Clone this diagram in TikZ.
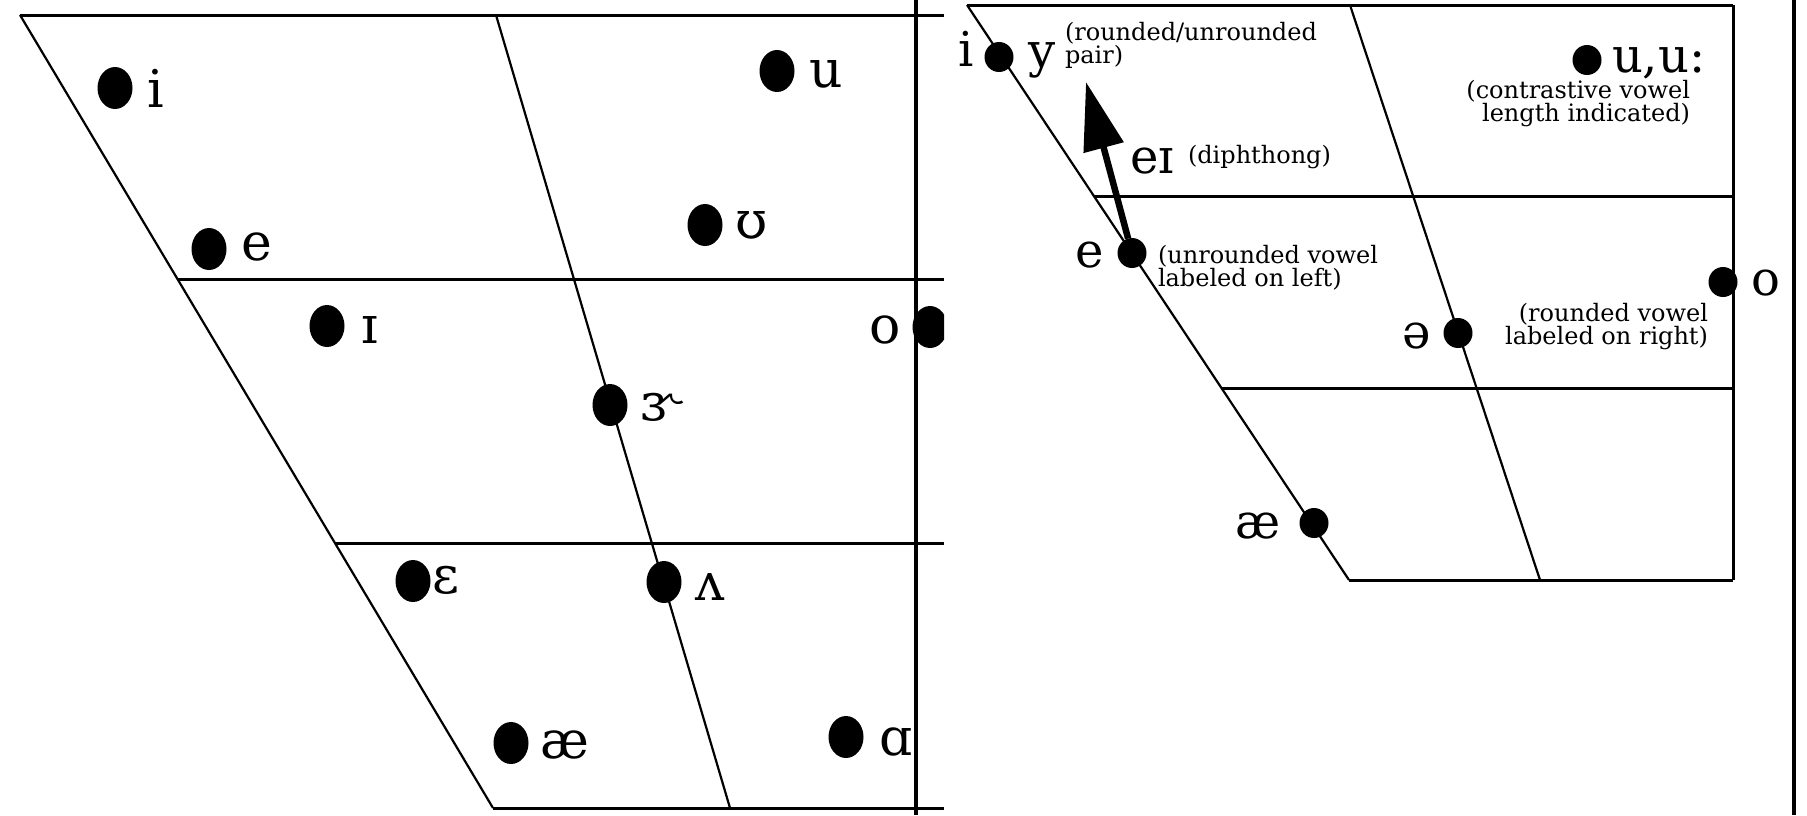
\documentclass[tikz,border=0pt]{standalone}
\usepackage{fontspec}
\setmainfont{DejaVu Serif}
\usetikzlibrary{shapes.geometric,arrows.meta}
\newcommand\fntLeft{\fontsize{52}{60}\selectfont}
\newcommand\fntRight{\fontsize{48}{56}\selectfont}
\tikzset{
  bigdot/.style={ellipse, fill=black, inner sep=0pt, outer sep=0pt, minimum width=35pt, minimum height=42pt},
  smalldot/.style={ellipse, fill=black, inner sep=0pt, outer sep=0pt, minimum width=29pt, minimum height=30pt},
  leftlab/.style={anchor=base west, inner sep=0pt, outer sep=0pt, font=\fntLeft},
  rightlab/.style={anchor=base west, inner sep=0pt, outer sep=0pt, font=\fntRight},
  note/.style={inner sep=0pt, outer sep=0pt},
  slantline/.style={line width=2.2pt},
  gridline/.style={line width=3pt},
  divider/.style={line width=4pt},
  diph/.style={line width=6.5pt, -{Triangle[length=68pt,width=40pt]}}
}
\begin{document}
\begin{tikzpicture}[x=1pt,y=-1pt]
\useasboundingbox (0,0) rectangle (1807,815);
\fill[white] (0,0) rectangle (1807,815);

% ---------- left chart ----------
\begin{scope}
\clip (0,0) rectangle (944,815);
\draw[gridline] (20,15) -- (944,15);
\draw[gridline] (177,279) -- (944,279);
\draw[gridline] (335,543) -- (944,543);
\draw[gridline] (493,808) -- (944,808);
\draw[slantline] (20,15) -- (493,808);
\draw[slantline] (496,15) -- (730,808);

\node[bigdot] (Li) at (115,88) {};
\node[leftlab] (Lil) at (147,107) {i};
\node[bigdot] (Lu) at (777,71) {};
\node[leftlab] (Lul) at (809,87) {u};
\node[bigdot] (Le) at (209,249) {};
\node[leftlab] (Lel) at (241,260) {e};
\node[bigdot] (Lhu) at (705,225) {};
\node[leftlab] (Lhul) at (735,238) {ʊ};
\node[bigdot] (Lsi) at (327,326) {};
\node[leftlab] (Lsil) at (361,343) {ɪ};
\node[bigdot] (Lo) at (930,327) {};
\node[leftlab] (Lol) at (869,343) {o};
\node[bigdot] (Ler) at (610,405) {};
\node[leftlab] (Lerl) at (640,420) {ɝ};
\node[bigdot] (Leps) at (413,581) {};
\node[leftlab] (Lepsl) at (432,593) {ɛ};
\node[bigdot] (Lv) at (664,582) {};
\node[leftlab] (Lvl) at (695,600) {ʌ};
\node[bigdot] (Lae) at (511,743) {};
\node[leftlab] (Lael) at (540,758) {æ};
\node[bigdot] (La) at (846,737) {};
\node[leftlab] (Lal) at (879,755) {ɑ};
\end{scope}

% ---------- dividers ----------
\draw[divider] (916,0) -- (916,815);
\draw[divider] (1794,0) -- (1794,815);

% ---------- right chart ----------
\draw[gridline] (967,5) -- (1733,5);
\draw[gridline] (1094,196) -- (1733,196);
\draw[gridline] (1221,388) -- (1733,388);
\draw[gridline] (1349,580) -- (1733,580);
\draw[gridline] (1733,5) -- (1733,580);
\draw[slantline] (967,5) -- (1349,580);
\draw[slantline] (1350,5) -- (1540,580);

\node[smalldot] (Ri) at (999,57) {};
\node[rightlab] (Ril) at (958,66) {i};
\node[rightlab] (Ryl) at (1028,67) {y};
\node[note, anchor=north west, align=left, font={\fontsize{24}{23}\selectfont}] (Rn1) at (1065,22) {(rounded/unrounded\\pair)};

\node[smalldot] (Ru) at (1587,60) {};
\node[rightlab] (Rul) at (1612,72) {u,u:};
\node[note, anchor=north east, align=right, font={\fontsize{24}{19}\selectfont}] (Rn2) at (1690,80) {(contrastive vowel\\length indicated)};

\node[smalldot] (Re) at (1132,253) {};
\node[rightlab] (Rel) at (1075,267) {e};
\node[note, anchor=north west, align=left, font={\fontsize{24}{20}\selectfont}] (Rn3) at (1158,245) {(unrounded vowel\\labeled on left)};

\coordinate (tip) at (1086,82);
\draw[diph] (Re) -- (tip);
\node[rightlab] (Reil) at (1130,173) {eɪ};
\node[note, anchor=base west, font={\fontsize{24}{24}\selectfont}] (Rn4) at (1188,163) {(diphthong)};

\node[smalldot] (Ro) at (1723,282) {};
\node[rightlab] (Rol) at (1751,295) {o};
\node[note, anchor=north east, align=right, font={\fontsize{24}{21}\selectfont}] (Rn5) at (1708,303) {(rounded vowel\\labeled on right)};

\node[smalldot] (Rsch) at (1458,333) {};
\node[rightlab] (Rschl) at (1402,348) {ə};

\node[smalldot] (Rae) at (1314,523) {};
\node[rightlab] (Rael) at (1235,538) {æ};
\end{tikzpicture}
\end{document}
